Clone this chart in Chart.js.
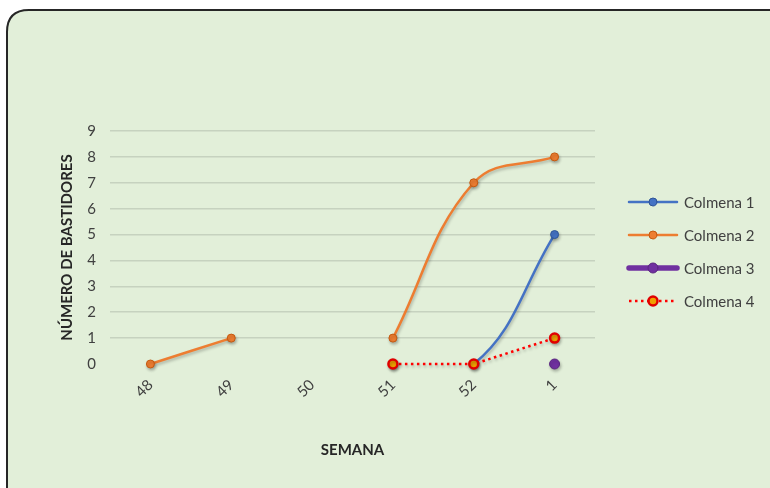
<!DOCTYPE html>
<html><head><meta charset="utf-8">
<script src="https://cdn.jsdelivr.net/npm/chart.js@4.4.1/dist/chart.umd.min.js"></script>
<style>html,body{margin:0;padding:0;background:#fff}#wrap{width:770px;height:488px}</style>
</head><body><div id="wrap"><canvas id="c" width="770" height="488"></canvas></div>
<script>
const categories = ['48','49','50','51','52','1'];
const colmena1 = [null,null,null,0,0,5];
const colmena2 = [0,1,null,1,7,8];
const colmena3 = [null,null,null,null,null,0];
const colmena4 = [null,null,null,0,0,1];
const seriesNames = ['Colmena 1','Colmena 2','Colmena 3','Colmena 4'];
const yTitle = 'NÚMERO DE BASTIDORES';
const xTitle = 'SEMANA';
const FONT = 'Lato, "Open Sans", sans-serif';

const bgPlugin = {
  id:'bg',
  beforeDraw(chart){
    const ctx = chart.ctx;
    ctx.save();
    ctx.fillStyle = '#fff';
    ctx.fillRect(0,0,chart.width,chart.height);
    const x=7, y=10, w=800, h=520, r=22;
    ctx.beginPath();
    ctx.moveTo(x+r,y);
    ctx.lineTo(x+w,y);
    ctx.lineTo(x+w,y+h);
    ctx.lineTo(x,y+h);
    ctx.lineTo(x,y+r);
    ctx.quadraticCurveTo(x,y,x+r,y);
    ctx.closePath();
    ctx.fillStyle = '#e2efd9';
    ctx.fill();
    ctx.lineWidth = 2;
    ctx.strokeStyle = '#262626';
    ctx.stroke();
    ctx.restore();
  },
  beforeDatasetsDraw(chart){
    chart.ctx.save();
    chart.ctx.shadowColor='rgba(0,0,0,0.25)';
    chart.ctx.shadowBlur=3;
    chart.ctx.shadowOffsetX=1;
    chart.ctx.shadowOffsetY=2;
  },
  afterDatasetsDraw(chart){ chart.ctx.restore(); },
  afterDraw(chart){
    const ctx = chart.ctx;
    ctx.save();
    chart.data.datasets.forEach((ds,i)=>{
      const y = 202 + 33*i;
      ctx.beginPath();
      ctx.setLineDash(ds.borderDash||[]);
      ctx.lineWidth = ds.legendLineWidth || ds.borderWidth;
      ctx.strokeStyle = ds.borderColor;
      ctx.lineCap = ds.borderDash ? 'butt':'round';
      ctx.moveTo(629,y); ctx.lineTo(677,y); ctx.stroke();
      ctx.setLineDash([]);
      ctx.beginPath();
      ctx.arc(653,y,ds.pointRadius,0,Math.PI*2);
      ctx.fillStyle = ds.pointBackgroundColor;
      ctx.fill();
      ctx.lineWidth = ds.pointBorderWidth;
      ctx.strokeStyle = ds.pointBorderColor;
      ctx.stroke();
      ctx.fillStyle = '#404040';
      ctx.font = '15px '+FONT;
      ctx.textAlign='left'; ctx.textBaseline='middle';
      ctx.fillText(ds.label, 684, y+1);
    });
    ctx.restore();
  }
};

new Chart(document.getElementById('c'), {
  type:'line',
  data:{
    labels: categories,
    datasets:[
      {label:seriesNames[0], data:colmena1, order:3, clip:false, borderColor:'#4472c4', borderWidth:2.5, tension:0.4,
        segment:{borderColor:(c)=> (c.p0.parsed.y===0 && c.p1.parsed.y===0) ? 'rgba(68,114,196,0)' : undefined},
        pointRadius:4, pointBackgroundColor:'#4472c4', pointBorderColor:'#2f5597', pointBorderWidth:1},
      {label:seriesNames[1], data:colmena2, order:2, clip:false, borderColor:'#ed7d31', borderWidth:2.5, tension:0.4,
        pointRadius:4, pointBackgroundColor:'#ed7d31', pointBorderColor:'#c55a11', pointBorderWidth:1},
      {label:seriesNames[2], data:colmena3, order:1, clip:false, borderColor:'#7030a0', borderWidth:5, legendLineWidth:5.5, tension:0.4,
        pointRadius:5, pointBackgroundColor:'#7030a0', pointBorderColor:'#5a2680', pointBorderWidth:1},
      {label:seriesNames[3], data:colmena4, order:0, clip:false, borderColor:'#ff0000', borderWidth:2.5, borderDash:[2.5,3.5], tension:0,
        pointRadius:4.5, pointBackgroundColor:'#f0a000', pointBorderColor:'#e00000', pointBorderWidth:2.5}
    ]
  },
  options:{
    responsive:false, animation:false,
    layout:{padding:{left:58,right:175,top:131,bottom:29}},
    plugins:{legend:{display:false}, tooltip:{enabled:false}},
    scales:{
      x:{
        offset:true,
        grid:{display:false},
        border:{display:false},
        ticks:{color:'#404040', font:{family:FONT,size:15}, minRotation:45, maxRotation:45, padding:4},
        title:{display:true, text:xTitle, color:'#262626', font:{family:FONT,size:15,weight:'bold'}, padding:{top:4,bottom:0}},
        afterFit(s){ s.height = 95; }
      },
      y:{
        min:0, max:9,
        grid:{color:(c)=> c.tick && c.tick.value===0 ? 'rgba(0,0,0,0)' : '#c6d2bf', lineWidth:1.5, drawTicks:false},
        border:{display:false},
        ticks:{stepSize:1, color:'#404040', font:{family:FONT,size:15}, padding:14},
        title:{display:true, text:yTitle, color:'#262626', font:{family:FONT,size:15,weight:'bold'}, padding:0},
        afterFit(s){ s.width = 52; }
      }
    }
  },
  plugins:[bgPlugin]
});
</script></body></html>
